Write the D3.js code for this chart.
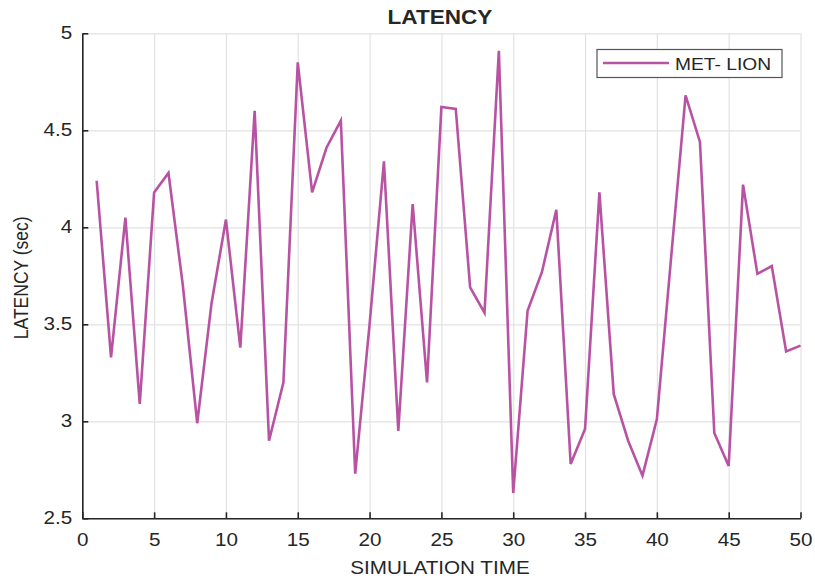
<!DOCTYPE html>
<html>
<head>
<meta charset="utf-8">
<script src="https://cdn.jsdelivr.net/npm/d3@7"></script>
<style>
  body { margin: 0; background: #fff; }
  text { font-family: "Liberation Sans", Arial, sans-serif; fill: #262626; }
</style>
</head>
<body>
<svg id="chart" width="815" height="578"></svg>
<script>
const simTime = d3.range(1, 51);
const latency = [
  4.24, 3.33, 4.05, 3.09, 4.18, 4.28, 3.70, 2.99, 3.61, 4.04,
  3.38, 4.60, 2.90, 3.20, 4.85, 4.18, 4.41, 4.55, 2.73, 3.50,
  4.34, 2.95, 4.12, 3.20, 4.62, 4.61, 3.69, 3.56, 4.91, 2.63,
  3.57, 3.77, 4.09, 2.78, 2.96, 4.18, 3.14, 2.90, 2.72, 3.01,
  3.85, 4.68, 4.44, 2.94, 2.77, 4.22, 3.76, 3.80, 3.36, 3.39
];
const xTicks = [0, 5, 10, 15, 20, 25, 30, 35, 40, 45, 50];
const yTicks = [2.5, 3, 3.5, 4, 4.5, 5];
const yTickLabels = ["2.5", "3", "3.5", "4", "4.5", "5"];
const seriesName = "MET- LION";
const titleText = "LATENCY";
const xLabel = "SIMULATION TIME";
const yLabel = "LATENCY (sec)";

const svg = d3.select("#chart");
const margin = { left: 82.3, right: 815 - 800.5, top: 33.3, bottom: 578 - 518.3 };
const W = 815 - margin.left - margin.right;
const H = 578 - margin.top - margin.bottom;

const x = d3.scaleLinear().domain([0, 50]).range([margin.left, margin.left + W]);
const y = d3.scaleLinear().domain([2.5, 5]).range([margin.top + H, margin.top]);

const stretch = 1.18;
function stretchText(sel, factor) {
  sel.each(function() {
    const len = this.getComputedTextLength();
    d3.select(this).attr("textLength", len * factor).attr("lengthAdjust", "spacingAndGlyphs");
  });
}

// grid
svg.append("g")
  .attr("transform", `translate(0,${margin.top + H})`)
  .call(d3.axisBottom(x).tickValues(xTicks).tickSize(-H).tickFormat(""))
  .call(g => g.select(".domain").remove())
  .call(g => g.selectAll("line").attr("stroke", "#e2e2e2").attr("stroke-width", 1.2));
svg.append("g")
  .attr("transform", `translate(${margin.left},0)`)
  .call(d3.axisLeft(y).tickValues(yTicks).tickSize(-W).tickFormat(""))
  .call(g => g.select(".domain").remove())
  .call(g => g.selectAll("line").attr("stroke", "#e2e2e2").attr("stroke-width", 1.2));

// axes
const xAxis = svg.append("g")
  .attr("transform", `translate(0,${margin.top + H})`)
  .call(d3.axisBottom(x).tickValues(xTicks).tickSizeInner(-6).tickSizeOuter(0).tickPadding(12)
        .tickFormat(d3.format("d")));
xAxis.select(".domain").attr("stroke", "#262626").attr("stroke-width", 1.6);
xAxis.selectAll("line").attr("stroke", "#262626").attr("stroke-width", 1.6);
xAxis.selectAll("text").attr("font-size", 17.5).attr("font-family", "Liberation Sans, Arial, sans-serif")
  .attr("fill", "#262626").attr("dy", "0.9em").call(stretchText, stretch);

const yAxis = svg.append("g")
  .attr("transform", `translate(${margin.left},0)`)
  .call(d3.axisLeft(y).tickValues(yTicks).tickSizeInner(-6).tickSizeOuter(0).tickPadding(10)
        .tickFormat((d, i) => yTickLabels[i]));
yAxis.select(".domain").attr("stroke", "#262626").attr("stroke-width", 1.6);
yAxis.selectAll("line").attr("stroke", "#262626").attr("stroke-width", 1.6);
yAxis.selectAll("text").attr("font-size", 17.5).attr("font-family", "Liberation Sans, Arial, sans-serif")
  .attr("fill", "#262626").call(stretchText, stretch);

// line
const line = d3.line().x((d, i) => x(simTime[i])).y(d => y(d));
svg.append("path")
  .datum(latency)
  .attr("d", line)
  .attr("fill", "none")
  .attr("stroke", "#b853a3")
  .attr("stroke-width", 2.6)
  .attr("stroke-linejoin", "miter");

// title
svg.append("text")
  .attr("x", 440).attr("y", 24)
  .attr("text-anchor", "middle")
  .attr("font-size", 20.5).attr("font-weight", "bold")
  .attr("fill", "#111")
  .text(titleText)
  .call(stretchText, 1.1);

// x label
svg.append("text")
  .attr("x", 440).attr("y", 574)
  .attr("text-anchor", "middle")
  .attr("font-size", 17.5)
  .text(xLabel)
  .call(stretchText, stretch);

// y label
svg.append("text")
  .attr("transform", `translate(28,${(margin.top + margin.top + H) / 2 + 2}) scale(${stretch},1) rotate(-90)`)
  .attr("text-anchor", "middle")
  .attr("font-size", 17.5)
  .text(yLabel);

// legend
const lg = svg.append("g");
lg.append("rect")
  .attr("x", 597).attr("y", 49.5).attr("width", 185).attr("height", 28)
  .attr("fill", "#fff").attr("stroke", "#555").attr("stroke-width", 1.2);
lg.append("line")
  .attr("x1", 603).attr("x2", 669).attr("y1", 63).attr("y2", 63)
  .attr("stroke", "#b853a3").attr("stroke-width", 2.6);
lg.append("text")
  .attr("x", 675).attr("y", 70)
  .attr("font-size", 17)
  .attr("fill", "#111")
  .text(seriesName)
  .call(stretchText, 1.13);
</script>
</body>
</html>
